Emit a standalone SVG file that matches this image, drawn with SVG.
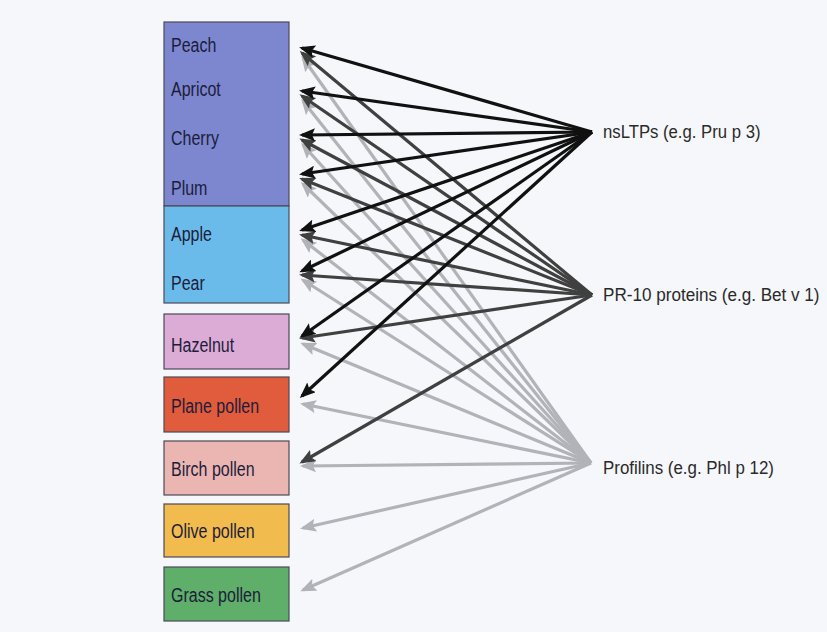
<svg xmlns="http://www.w3.org/2000/svg" width="827" height="632" viewBox="0 0 827 632">
  <style>
    .box { stroke: #4a4a58; stroke-width: 1.2; }
    .lbl { font-family: "Liberation Sans", Arial, sans-serif; font-size: 20px; fill: #1c1d3a; }
    .src { font-family: "Liberation Sans", Arial, sans-serif; font-size: 19px; fill: #2a2a2a; }
    .ltp { stroke: #111111; stroke-width: 3.2; fill: none; marker-end: url(#head-ltp); }
    .pr10 { stroke: #404040; stroke-width: 3.2; fill: none; marker-end: url(#head-pr10); }
    .prof { stroke: #b2b3b8; stroke-width: 3.2; fill: none; marker-end: url(#head-prof); }
  </style>
  <defs>
    <marker id="head-ltp" viewBox="0 0 16 13" refX="13" refY="6.5" markerWidth="16" markerHeight="13" markerUnits="userSpaceOnUse" orient="auto">
      <path d="M0,0 L16,6.5 L0,13 L3,6.5 z" fill="#111111"/>
    </marker>
    <marker id="head-pr10" viewBox="0 0 16 13" refX="13" refY="6.5" markerWidth="16" markerHeight="13" markerUnits="userSpaceOnUse" orient="auto">
      <path d="M0,0 L16,6.5 L0,13 L3,6.5 z" fill="#404040"/>
    </marker>
    <marker id="head-prof" viewBox="0 0 16 13" refX="13" refY="6.5" markerWidth="16" markerHeight="13" markerUnits="userSpaceOnUse" orient="auto">
      <path d="M0,0 L16,6.5 L0,13 L3,6.5 z" fill="#b2b3b8"/>
    </marker>
  </defs>

  <rect x="0" y="0" width="827" height="632" fill="#f6f7fa"/>

  <!-- stone fruits (shared purple block) -->
  <g id="stone-fruit">
    <rect class="box" x="164" y="22" width="125" height="184" fill="#7d87d0"/>
  </g>
  <g id="node-peach"><text class="lbl" transform="translate(171,52) scale(0.8,1)">Peach</text></g>
  <g id="node-apricot"><text class="lbl" transform="translate(171,96) scale(0.8,1)">Apricot</text></g>
  <g id="node-cherry"><text class="lbl" transform="translate(171,145) scale(0.8,1)">Cherry</text></g>
  <g id="node-plum"><text class="lbl" transform="translate(171,195) scale(0.8,1)">Plum</text></g>

  <!-- pome fruits (shared blue block) -->
  <g id="pome-fruit">
    <rect class="box" x="164" y="206" width="125" height="97" fill="#6bbbea"/>
  </g>
  <g id="node-apple"><text class="lbl" transform="translate(171,241) scale(0.8,1)">Apple</text></g>
  <g id="node-pear"><text class="lbl" transform="translate(171,290) scale(0.8,1)">Pear</text></g>

  <g id="node-hazelnut">
    <rect class="box" x="164" y="314" width="125" height="55" fill="#dcabd6"/>
    <text class="lbl" transform="translate(171,352) scale(0.8,1)">Hazelnut</text>
  </g>
  <g id="node-plane">
    <rect class="box" x="164" y="377" width="125" height="55" fill="#e15b3d"/>
    <text class="lbl" transform="translate(171,413) scale(0.8,1)">Plane pollen</text>
  </g>
  <g id="node-birch">
    <rect class="box" x="164" y="441" width="125" height="54" fill="#ebb6b2"/>
    <text class="lbl" transform="translate(171,476) scale(0.8,1)">Birch pollen</text>
  </g>
  <g id="node-olive">
    <rect class="box" x="164" y="504" width="125" height="53" fill="#f2bb4d"/>
    <text class="lbl" transform="translate(171,538) scale(0.8,1)">Olive pollen</text>
  </g>
  <g id="node-grass">
    <rect class="box" x="164" y="567" width="125" height="54" fill="#5fae69"/>
    <text class="lbl" transform="translate(171,602) scale(0.8,1)">Grass pollen</text>
  </g>

  <g id="node-nsltp"><text class="src" transform="translate(603,138) scale(0.88,1)">nsLTPs (e.g. Pru p 3)</text></g>
  <g id="node-pr10"><text class="src" transform="translate(603,301) scale(0.9,1)">PR-10 proteins (e.g. Bet v 1)</text></g>
  <g id="node-profilin"><text class="src" transform="translate(603,474) scale(0.89,1)">Profilins (e.g. Phl p 12)</text></g>

  <g id="connectors">
    <!-- profilins -->
    <line class="prof" x1="591" y1="463" x2="303" y2="58"/>
    <line class="prof" x1="591" y1="463" x2="303" y2="101"/>
    <line class="prof" x1="591" y1="463" x2="303" y2="145"/>
    <line class="prof" x1="591" y1="463" x2="303" y2="184"/>
    <line class="prof" x1="591" y1="463" x2="303" y2="240"/>
    <line class="prof" x1="591" y1="463" x2="303" y2="280"/>
    <line class="prof" x1="591" y1="463" x2="303" y2="344"/>
    <line class="prof" x1="591" y1="463" x2="303" y2="404"/>
    <line class="prof" x1="591" y1="463" x2="303" y2="466"/>
    <line class="prof" x1="591" y1="463" x2="303" y2="528"/>
    <line class="prof" x1="591" y1="463" x2="303" y2="590"/>
    <!-- PR-10 proteins -->
    <line class="pr10" x1="592" y1="295" x2="302" y2="53"/>
    <line class="pr10" x1="592" y1="295" x2="302" y2="96"/>
    <line class="pr10" x1="592" y1="295" x2="302" y2="140"/>
    <line class="pr10" x1="592" y1="295" x2="302" y2="179"/>
    <line class="pr10" x1="592" y1="295" x2="302" y2="235"/>
    <line class="pr10" x1="592" y1="295" x2="302" y2="275"/>
    <line class="pr10" x1="592" y1="295" x2="302" y2="338"/>
    <line class="pr10" x1="592" y1="295" x2="302" y2="462"/>
    <!-- nsLTPs -->
    <line class="ltp" x1="592" y1="132" x2="302" y2="48"/>
    <line class="ltp" x1="592" y1="132" x2="302" y2="91"/>
    <line class="ltp" x1="592" y1="132" x2="302" y2="135"/>
    <line class="ltp" x1="592" y1="132" x2="302" y2="174"/>
    <line class="ltp" x1="592" y1="132" x2="302" y2="230"/>
    <line class="ltp" x1="592" y1="132" x2="302" y2="271"/>
    <line class="ltp" x1="592" y1="132" x2="302" y2="336"/>
    <line class="ltp" x1="592" y1="132" x2="302" y2="396"/>
  </g>
</svg>
